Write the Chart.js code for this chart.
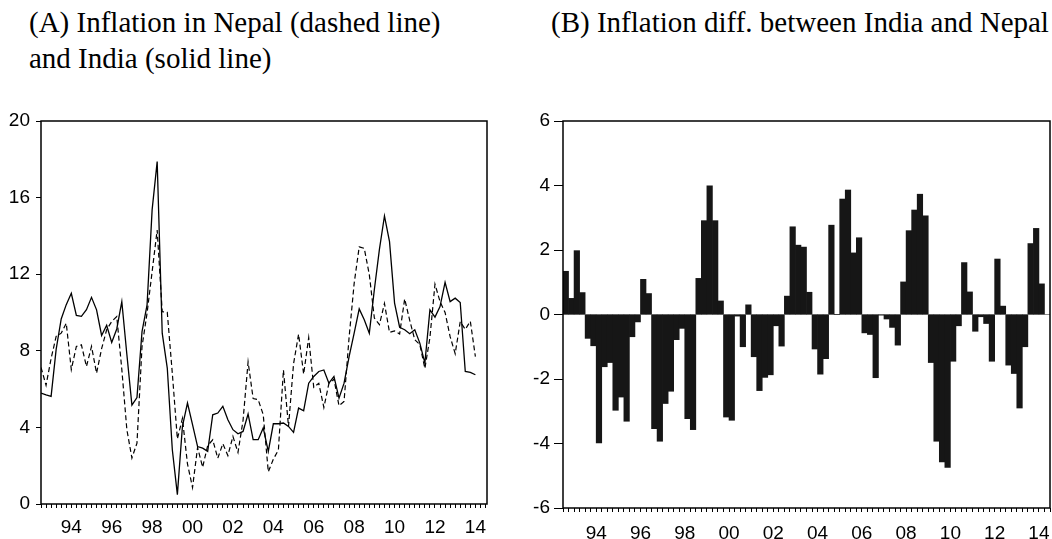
<!DOCTYPE html>
<html>
<head>
<meta charset="utf-8">
<script src="https://cdn.jsdelivr.net/npm/chart.js@4"></script>
<style>
  html, body { margin: 0; padding: 0; width: 1052px; height: 539px; overflow: hidden; background: #fff; }
  .title {
    position: absolute; top: 4px; color: #000; white-space: nowrap;
    font-family: "Liberation Serif", "Times New Roman", serif; font-size: 29px; line-height: 36px;
  }
  #titleA { left: 29px; }
  #titleB { left: 551px; }
  #wrapA { position: absolute; left: 0; top: 0; width: 500px; height: 539px; }
  #wrapB { position: absolute; left: 520px; top: 0; width: 540px; height: 539px; }
</style>
</head>
<body>
<div class="title" id="titleA">(A) Inflation in Nepal (dashed line)<br>and India (solid line)</div>
<div class="title" id="titleB">(B) Inflation diff. between India and Nepal</div>
<div id="wrapA"><canvas id="chartA"></canvas></div>
<div id="wrapB"><canvas id="chartB"></canvas></div>
<script>
// quarterly, 1993Q1 .. 2014Q3
const india = [
  5.79, 5.70, 5.62, 8.07, 9.66, 10.41, 11.00, 9.85, 9.80, 10.15,
  10.79, 10.14, 8.80, 9.33, 8.44, 9.14, 10.57, 7.81, 5.16, 5.56,
  9.00, 10.40, 15.36, 17.88, 8.92, 7.10, 2.83, 0.49, 4.05, 5.27,
  4.14, 3.00, 2.92, 2.75, 4.66, 4.75, 5.10, 4.40, 3.88, 3.67,
  3.79, 4.70, 3.36, 3.36, 3.97, 2.75, 4.19, 4.19, 4.23, 4.05,
  3.74, 5.01, 4.87, 6.31, 6.66, 6.92, 7.00, 6.31, 6.66, 5.53,
  6.31, 7.70, 8.92, 10.19, 9.62, 8.92, 11.20, 13.30, 15.04, 13.70,
  10.49, 9.23, 9.10, 8.89, 9.10, 8.40, 7.36, 10.14, 9.76, 10.31,
  11.57, 10.57, 10.75, 10.52, 6.92, 6.87, 6.75
];
const nepal = [
  7.13, 6.20, 7.60, 8.75, 8.92, 9.44, 7.02, 8.23, 8.31, 7.18,
  8.23, 6.83, 8.11, 9.10, 9.53, 9.79, 7.03, 3.88, 2.40, 3.18,
  8.22, 9.97, 12.13, 14.31, 10.04, 10.01, 6.82, 3.40, 4.47, 2.09,
  0.86, 2.95, 1.92, 3.05, 3.35, 2.39, 3.15, 2.53, 3.53, 2.69,
  4.36, 7.42, 5.51, 5.45, 4.66, 1.68, 2.34, 2.82, 7.00, 4.05,
  7.32, 8.87, 6.78, 8.69, 6.09, 6.30, 5.04, 6.29, 6.52, 5.13,
  5.36, 8.71, 11.52, 13.43, 13.35, 11.98, 9.71, 9.37, 10.47, 8.96,
  9.04, 8.88, 10.71, 9.59, 8.58, 8.33, 7.08, 8.69, 11.48, 10.57,
  10.00, 8.74, 7.85, 9.52, 9.12, 9.54, 7.70
];
const diff = [
  1.34, 0.50, 1.98, 0.68, -0.74, -0.97, -3.98, -1.62, -1.49, -2.97,
  -2.56, -3.31, -0.69, -0.23, 1.09, 0.65, -3.54, -3.93, -2.76, -2.38,
  -0.78, -0.43, -3.23, -3.57, 1.12, 2.91, 3.99, 2.91, 0.42, -3.18,
  -3.28, -0.05, -1.00, 0.30, -1.31, -2.36, -1.95, -1.87, -0.35, -0.98,
  0.57, 2.72, 2.15, 2.09, 0.69, -1.07, -1.85, -1.37, 2.77, 0.00,
  3.58, 3.86, 1.91, 2.38, -0.57, -0.62, -1.96, -0.02, -0.14, -0.40,
  -0.95, 1.01, 2.60, 3.24, 3.73, 3.06, -1.49, -3.93, -4.57, -4.74,
  -1.45, -0.35, 1.61, 0.70, -0.52, -0.07, -0.28, -1.45, 1.72, 0.26,
  -1.57, -1.83, -2.90, -1.00, 2.20, 2.67, 0.95
];
const yearLabels = ['94', '96', '98', '00', '02', '04', '06', '08', '10', '12', '14'];

const tickFont = { family: '"Liberation Sans", Arial, sans-serif', size: 19 };

// box around the plot area, like the eviews frame
const framePlugin = {
  id: 'frame',
  afterDatasetsDraw(chart) {
    const { ctx, chartArea: a } = chart;
    ctx.save();
    ctx.strokeStyle = '#000';
    ctx.lineWidth = 1.5;
    ctx.strokeRect(a.left, a.top, a.right - a.left, a.bottom - a.top);
    ctx.restore();
  }
};

// one tick per quarter, year label in the middle of every second year
const quarterTicks = (scale) => {
  const t = [];
  for (let q = 0; q <= 88; q++) t.push({ value: q });
  scale.ticks = t;
};
const yearLabel = (v) => {
  const i = (v - 6) / 8;
  return Number.isInteger(i) && i >= 0 && i < yearLabels.length ? yearLabels[i] : '';
};

const xAxis = (max, height, padding) => ({
  type: 'linear', min: 0, max: max, offset: false,
  afterBuildTicks: quarterTicks,
  afterFit: (s) => { s.height = height; },
  border: { display: false },
  grid: { offset: false, drawOnChartArea: false, tickLength: 4, tickColor: '#000' },
  ticks: { autoSkip: false, maxRotation: 0, minRotation: 0, padding: padding, color: '#000', font: tickFont, callback: yearLabel }
});

new Chart(document.getElementById('chartA'), {
  type: 'line',
  data: {
    datasets: [
      {
        label: 'India',
        data: india.map((v, i) => ({ x: i, y: v })),
        borderColor: '#000', borderWidth: 1.3, pointRadius: 0, tension: 0
      },
      {
        label: 'Nepal',
        data: nepal.map((v, i) => ({ x: i, y: v })),
        borderColor: '#000', borderWidth: 1.2, borderDash: [5, 3], pointRadius: 0, tension: 0
      }
    ]
  },
  options: {
    responsive: true, maintainAspectRatio: false, animation: false,
    layout: { padding: { top: 121, right: 13, bottom: 0, left: 0 } },
    plugins: { legend: { display: false }, tooltip: { enabled: false } },
    scales: {
      x: xAxis(88.3, 35, 8),
      y: {
        min: 0, max: 20,
        afterFit: (s) => { s.width = 41; },
        border: { display: false },
        grid: { drawOnChartArea: false, tickLength: 5, tickColor: '#000' },
        ticks: { stepSize: 4, padding: 6, color: '#000', font: tickFont }
      }
    }
  },
  plugins: [framePlugin]
});

new Chart(document.getElementById('chartB'), {
  type: 'bar',
  data: {
    datasets: [{
      label: 'Nepal - India',
      data: diff.map((v, i) => ({ x: i + 0.5, y: v })),
      backgroundColor: '#161616', borderWidth: 0,
      barPercentage: 1, categoryPercentage: 1
    }]
  },
  options: {
    responsive: true, maintainAspectRatio: false, animation: false,
    layout: { padding: { top: 121, right: 6, bottom: 0, left: 0 } },
    plugins: { legend: { display: false }, tooltip: { enabled: false } },
    scales: {
      x: xAxis(88, 31, 10),
      y: {
        min: -6, max: 6,
        afterFit: (s) => { s.width = 43; },
        border: { display: false },
        grid: {
          drawOnChartArea: true, tickLength: 9, tickColor: '#000',
          color: (c) => (c.tick && c.tick.value === 0 ? '#8a8a8a' : 'rgba(0,0,0,0)')
        },
        ticks: { stepSize: 2, padding: 4, color: '#000', font: tickFont }
      }
    }
  },
  plugins: [framePlugin]
});
</script>
</body>
</html>
